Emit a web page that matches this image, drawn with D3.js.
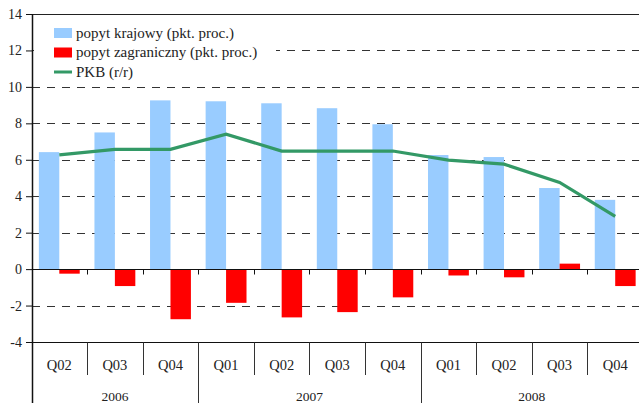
<!DOCTYPE html>
<html>
<head>
<meta charset="utf-8">
<script src="https://d3js.org/d3.v7.min.js"></script>
<style>
  body { margin: 0; background: #fff; }
</style>
</head>
<body>
<div id="chart"></div>
<script>

// quarters and the year each one belongs to
var quarters = ["Q02", "Q03", "Q04", "Q01", "Q02", "Q03", "Q04", "Q01", "Q02", "Q03", "Q04"];
var years = ["2006", "2006", "2006", "2007", "2007", "2007", "2007", "2008", "2008", "2008", "2008"];

// series values
var domestic = [6.42, 7.5, 9.26, 9.21, 9.1, 8.83, 7.95, 6.26, 6.15, 4.45, 3.8];
var foreign = [-0.25, -0.93, -2.75, -1.85, -2.65, -2.36, -1.55, -0.35, -0.45, 0.3, -0.93];
var gdp = [6.27, 6.57, 6.57, 7.4, 6.48, 6.48, 6.48, 5.98, 5.76, 4.76, 2.89];

var yTicks = [-4, -2, 0, 2, 4, 6, 8, 10, 12, 14];
var legendLabels = ["popyt krajowy (pkt. proc.)", "popyt zagraniczny (pkt. proc.)", "PKB (r/r)"];

var colors = {blue: "#99ccff", red: "#ff0000", green: "#339966"};
var serif = "'Liberation Serif', 'Times New Roman', serif";

var width = 639, height = 403;

var svg = d3.select("#chart")
  .append("svg")
    .attr("width", width)
    .attr("height", height);

// index keys so repeated quarter names stay apart
var keys = quarters.map(function(d, i) { return i; });

var x = d3.scaleBand()
  .domain(keys)
  .range([31.5, 643])
  .padding(0);

var sub = d3.scaleBand()
  .domain(["dom", "for"])
  .range([0, x.bandwidth()])
  .paddingInner(0)
  .paddingOuter(0.36);

var y = d3.scaleLinear()
  .domain([-4, 14])
  .range([342, 14]);

// dashed grid lines
svg.append("g")
  .selectAll("line")
  .data(yTicks.filter(function(d) { return d != 0 && d != -4 && d != 14; }))
  .enter()
  .append("line")
    .attr("x1", 32)
    .attr("x2", width)
    .attr("y1", function(d) { return Math.round(y(d)) + 0.5; })
    .attr("y2", function(d) { return Math.round(y(d)) + 0.5; })
    .attr("stroke", "#333")
    .attr("stroke-width", 1.2)
    .attr("stroke-dasharray", "8,7");

// top border line
svg.append("line")
  .attr("x1", 32).attr("x2", width)
  .attr("y1", Math.round(y(14)) + 0.5).attr("y2", Math.round(y(14)) + 0.5)
  .attr("stroke", "#222")
  .attr("stroke-width", 1.2);

// domestic demand bars
svg.append("g")
  .selectAll("rect")
  .data(keys)
  .enter()
  .append("rect")
    .attr("x", function(d) { return x(d) + sub("dom"); })
    .attr("width", sub.bandwidth())
    .attr("y", function(d) { return y(Math.max(0, domestic[d])); })
    .attr("height", function(d) { return Math.abs(y(domestic[d]) - y(0)); })
    .attr("fill", colors.blue);

// foreign demand bars
svg.append("g")
  .selectAll("rect")
  .data(keys)
  .enter()
  .append("rect")
    .attr("x", function(d) { return x(d) + sub("for"); })
    .attr("width", sub.bandwidth())
    .attr("y", function(d) { return y(Math.max(0, foreign[d])); })
    .attr("height", function(d) { return Math.abs(y(foreign[d]) - y(0)); })
    .attr("fill", colors.red);

// gdp line
var line = d3.line()
  .x(function(d) { return x(d) + x.bandwidth() / 2; })
  .y(function(d) { return y(gdp[d]); });

svg.append("path")
  .datum(keys)
  .attr("d", line)
  .attr("fill", "none")
  .attr("stroke", colors.green)
  .attr("stroke-width", 3.2);

// zero axis with small ticks at category borders
var zeroY = Math.round(y(0)) + 0.5;
svg.append("line")
  .attr("x1", 32).attr("x2", width)
  .attr("y1", zeroY).attr("y2", zeroY)
  .attr("stroke", "#111")
  .attr("stroke-width", 1.2);

svg.append("g")
  .selectAll("line")
  .data(keys.slice(1))
  .enter()
  .append("line")
    .attr("x1", function(d) { return Math.round(x(d)) + 0.5; })
    .attr("x2", function(d) { return Math.round(x(d)) + 0.5; })
    .attr("y1", zeroY)
    .attr("y2", zeroY + 5)
    .attr("stroke", "#111");

// bottom line at -4
var baseY = Math.round(y(-4)) + 0.5;
svg.append("line")
  .attr("x1", 32).attr("x2", width)
  .attr("y1", baseY).attr("y2", baseY)
  .attr("stroke", "#111")
  .attr("stroke-width", 1.2);

// left axis, plain hyphen for negatives like the original
var yAxis = svg.append("g")
  .attr("transform", "translate(32,0)")
  .call(d3.axisLeft(y)
    .tickValues(yTicks)
    .tickFormat(function(d) { return String(d); })
    .tickSize(6)
    .tickSizeOuter(0));
yAxis.attr("font-family", serif).attr("font-size", 14);
yAxis.select(".domain").remove();
yAxis.selectAll("line").attr("stroke", "#111");
yAxis.selectAll("text")
  .attr("x", -10)
  .attr("fill", "#222");

svg.append("line")
  .attr("x1", 32.5).attr("x2", 32.5)
  .attr("y1", y(14)).attr("y2", height)
  .attr("stroke", "#111")
  .attr("stroke-width", 1.5);

// quarter labels and separators
svg.append("g")
  .selectAll("line")
  .data(keys.slice(1))
  .enter()
  .append("line")
    .attr("x1", function(d) { return Math.round(x(d)) + 0.5; })
    .attr("x2", function(d) { return Math.round(x(d)) + 0.5; })
    .attr("y1", baseY)
    .attr("y2", function(d) { return years[d] != years[d - 1] ? height : 375; })
    .attr("stroke", "#333");

svg.append("g")
  .attr("font-family", serif)
  .attr("font-size", 14.5)
  .attr("fill", "#222")
  .selectAll("text")
  .data(keys)
  .enter()
  .append("text")
    .attr("x", function(d) { return x(d) + x.bandwidth() / 2; })
    .attr("y", 370)
    .attr("text-anchor", "middle")
    .text(function(d) { return quarters[d]; });

// year labels centred under their quarters
var yearNames = Array.from(new Set(years));
svg.append("g")
  .attr("font-family", serif)
  .attr("font-size", 13.5)
  .attr("fill", "#222")
  .selectAll("text")
  .data(yearNames)
  .enter()
  .append("text")
    .attr("x", function(yr) {
      var idx = keys.filter(function(k) { return years[k] == yr; });
      return (x(idx[0]) + x(idx[idx.length - 1]) + x.bandwidth()) / 2;
    })
    .attr("y", 401)
    .attr("text-anchor", "middle")
    .text(function(d) { return d; });

// legend on a white box
var legend = svg.append("g")
  .attr("font-family", serif)
  .attr("font-size", 15)
  .attr("fill", "#222");
legend.append("rect")
  .attr("x", 34).attr("y", 20)
  .attr("width", 242).attr("height", 60)
  .attr("fill", "#fff");

legendLabels.forEach(function(label, i) {
  var cy = 33 + i * 19.5;
  if (i < 2) {
    legend.append("rect")
      .attr("x", 54).attr("y", cy - 5)
      .attr("width", 18).attr("height", 10)
      .attr("fill", i == 0 ? colors.blue : colors.red);
  } else {
    legend.append("line")
      .attr("x1", 54).attr("x2", 72)
      .attr("y1", cy).attr("y2", cy)
      .attr("stroke", colors.green)
      .attr("stroke-width", 3);
  }
  legend.append("text")
    .attr("x", 76)
    .attr("y", cy + 4.5)
    .text(label);
});

</script>
</body>
</html>
